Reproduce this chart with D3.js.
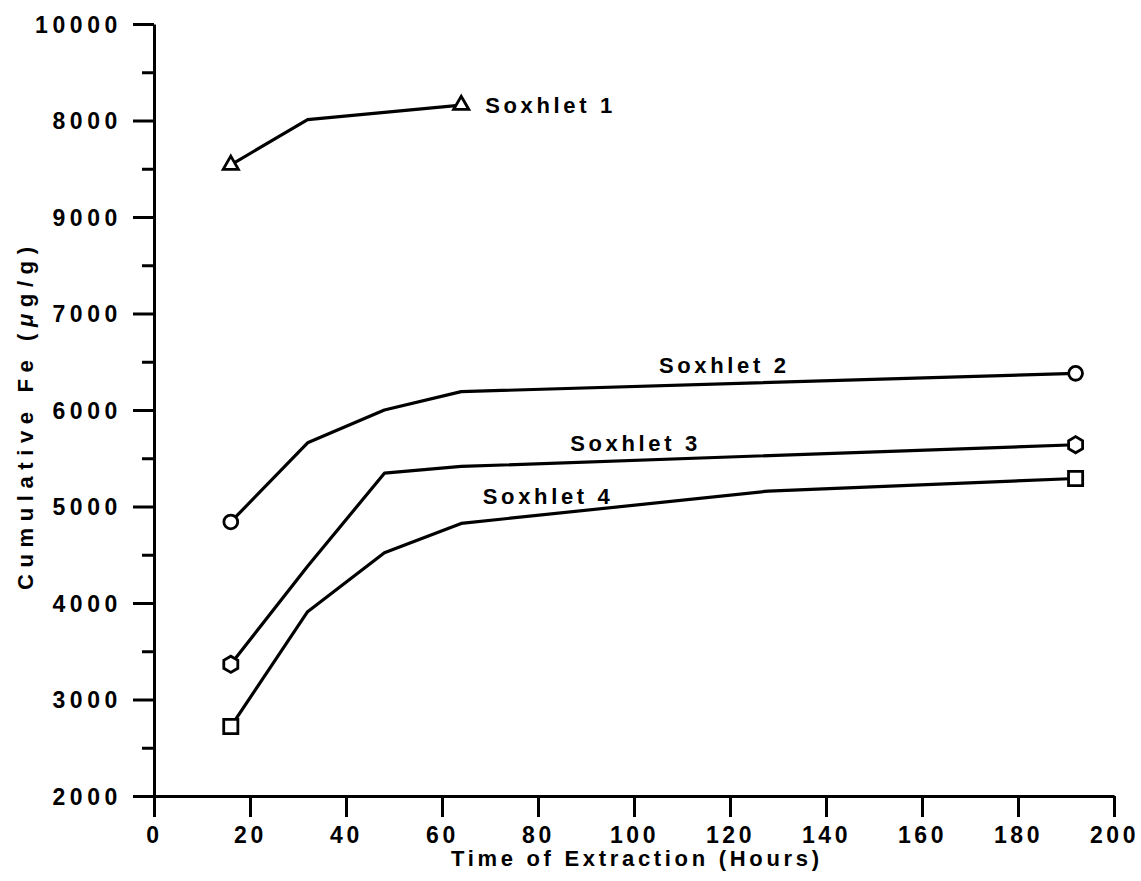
<!DOCTYPE html>
<html>
<head>
<meta charset="utf-8">
<script src="https://cdn.jsdelivr.net/npm/d3@7"></script>
<style>
  body { margin: 0; background: #fff; }
  svg { display: block; }
  text { font-family: "Liberation Sans", Arial, Helvetica, sans-serif; font-weight: bold; fill: #000; }
</style>
</head>
<body>
<script>
// Datos
var hoursS1 = [16, 32, 64];
var feS1 = [8540, 9010, 9160];
var hoursS2 = [16, 32, 48, 64, 192];
var feS2 = [4840, 5660, 6000, 6190, 6380];
var hoursS3 = [16, 32, 48, 64, 192];
var feS3 = [3365, 4380, 5345, 5415, 5640];
var hoursS4 = [16, 32, 48, 64, 128, 192];
var feS4 = [2720, 3910, 4520, 4825, 5160, 5290];

var seriesNames = ["Soxhlet 1", "Soxhlet 2", "Soxhlet 3", "Soxhlet 4"];
// Etiquetas del eje Y tal como aparecen (de abajo hacia arriba)
var yTickValues = [2000, 3000, 4000, 5000, 6000, 7000, 8000, 9000, 10000];
var yTickLabels = ["2000", "3000", "4000", "5000", "6000", "7000", "9000", "8000", "10000"];
var xTickValues = [0, 20, 40, 60, 80, 100, 120, 140, 160, 180, 200];

var margin = {top: 24, right: 27, bottom: 85, left: 154};
var W = 1141, H = 881;
var width = W - margin.left - margin.right;
var height = H - margin.top - margin.bottom;
var ls = 4.6; // espaciado entre letras de las marcas

var svg = d3.select("body").append("svg")
    .attr("width", W)
    .attr("height", H);

var g = svg.append("g")
    .attr("transform", `translate(${margin.left}, ${margin.top})`);

var x = d3.scaleLinear().domain([0, 200]).range([0, width]);
var y = d3.scaleLinear().domain([2000, 10000]).range([height, 0]);

// Eje Y: marcas menores
g.append("g")
    .call(d3.axisLeft(y)
        .tickValues(d3.range(2500, 10000, 1000))
        .tickSize(12)
        .tickSizeOuter(0)
        .tickFormat(""))
    .call(s => s.select(".domain").remove())
    .selectAll("line").attr("stroke", "#000").attr("stroke-width", 3);

// Eje Y principal
var yAxis = g.append("g")
    .call(d3.axisLeft(y)
        .tickValues(yTickValues)
        .tickSize(21)
        .tickSizeOuter(0)
        .tickPadding(11)
        .tickFormat((d, i) => yTickLabels[i]));
yAxis.select(".domain").attr("stroke", "#000").attr("stroke-width", 3);
yAxis.selectAll("line").attr("stroke", "#000").attr("stroke-width", 3);
yAxis.selectAll("text")
    .attr("dy", "0.36em")
    .style("font-size", "23px")
    .style("letter-spacing", ls + "px");

// Eje X
var xAxis = g.append("g")
    .attr("transform", `translate(0, ${height})`)
    .call(d3.axisBottom(x)
        .tickValues(xTickValues)
        .tickSize(21)
        .tickSizeOuter(0));
xAxis.select(".domain").attr("stroke", "#000").attr("stroke-width", 3);
xAxis.selectAll("line").attr("stroke", "#000").attr("stroke-width", 3);
xAxis.selectAll("text")
    .attr("y", 47)
    .attr("dy", 0)
    .style("font-size", "23px")
    .style("letter-spacing", "3.6px");

// Títulos de ejes
g.append("text")
    .attr("x", 451 - margin.left)
    .attr("y", height + 70)
    .attr("textLength", 368)
    .attr("lengthAdjust", "spacing")
    .style("font-size", "22px")
    .text("Time of Extraction (Hours)");

var yTitle = g.append("text")
    .attr("transform", `translate(${33 - margin.left}, ${590 - margin.top}) rotate(-90)`)
    .attr("textLength", 343)
    .attr("lengthAdjust", "spacing")
    .style("font-size", "22px");
yTitle.append("tspan").text("Cumulative Fe (");
yTitle.append("tspan").style("font-style", "italic").text("μ");
yTitle.append("tspan").text("g/g)");

// Hexágono (símbolo propio)
var symbolHexagon = {
    draw(context, size) {
        var r = Math.sqrt(size / (1.5 * Math.sqrt(3)));
        for (var k = 0; k < 6; k++) {
            var a = Math.PI / 2 + k * Math.PI / 3;
            var px = r * Math.cos(a), py = r * Math.sin(a);
            if (k === 0) context.moveTo(px, py); else context.lineTo(px, py);
        }
        context.closePath();
    }
};

var series = [
    {name: seriesNames[0], hours: hoursS1, fe: feS1, symbol: d3.symbolTriangle, size: 100, label: [69, 9080]},
    {name: seriesNames[1], hours: hoursS2, fe: feS2, symbol: d3.symbolCircle, size: 150, label: [105.2, 6385]},
    {name: seriesNames[2], hours: hoursS3, fe: feS3, symbol: symbolHexagon, size: 170, label: [86.7, 5575]},
    {name: seriesNames[3], hours: hoursS4, fe: feS4, symbol: d3.symbolSquare, size: 200, label: [68.5, 5025]}
];

var line = d3.line()
    .x(d => x(d[0]))
    .y(d => y(d[1]));

series.forEach(s => {
    var pts = s.hours.map((h, i) => [h, s.fe[i]]);

    g.append("path")
        .datum(pts)
        .attr("d", line)
        .attr("fill", "none")
        .attr("stroke", "#000")
        .attr("stroke-width", 3.2)
        .attr("stroke-linejoin", "round");

    // marcadores sólo en los extremos
    var ends = [pts[0], pts[pts.length - 1]];
    g.selectAll(null)
        .data(ends)
        .enter()
        .append("path")
        .attr("transform", d => `translate(${x(d[0])}, ${y(d[1])})`)
        .attr("d", d3.symbol().type(s.symbol).size(s.size))
        .attr("fill", "#fff")
        .attr("stroke", "#000")
        .attr("stroke-width", 2.8);

    g.append("text")
        .attr("x", x(s.label[0]))
        .attr("y", y(s.label[1]))
        .attr("textLength", 127)
        .attr("lengthAdjust", "spacing")
        .style("font-size", "22px")
        .text(s.name);
});
</script>
</body>
</html>
